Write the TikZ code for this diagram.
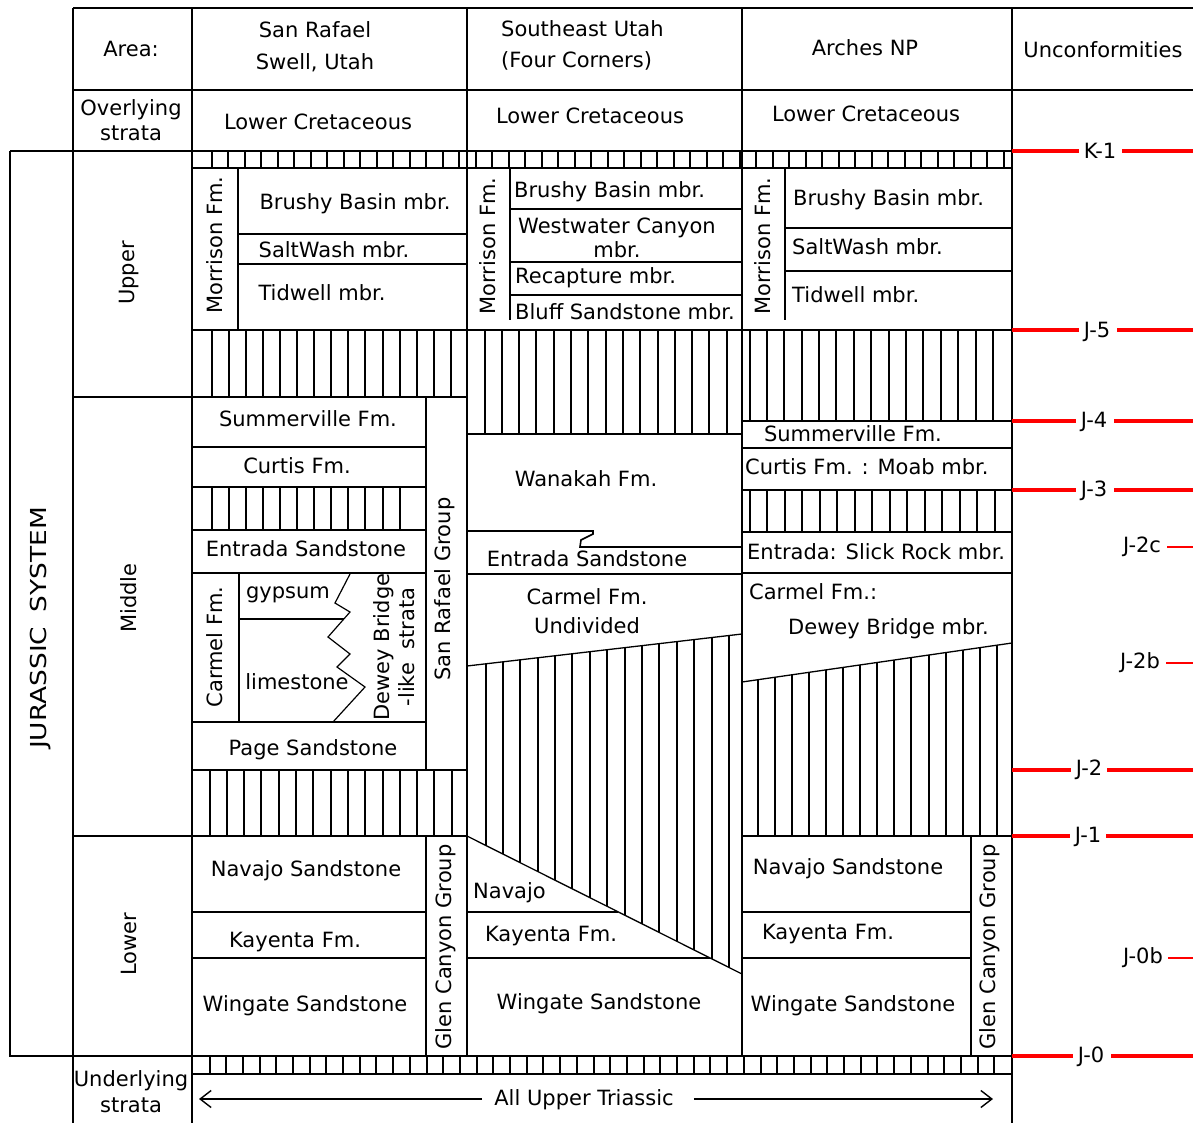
\documentclass[tikz,border=0pt]{standalone}
\usepackage{fontspec}
\setmainfont{DejaVu Sans}
\usetikzlibrary{arrows.meta}
\begin{document}
\begin{tikzpicture}[x=1pt,y=-1pt,
  ln/.style={line width=1.6pt},
  hat/.style={line width=1.5pt},
  rl/.style={draw=red, line width=3.2pt},
  rthin/.style={draw=red, line width=1.3pt},
  t/.style={inner sep=0pt, font=\fontsize{21}{25}\selectfont, align=center},
  tl/.style={t, anchor=west, align=left},
  tr/.style={t, rotate=90},
  tip/.style={-{Straight Barb[length=11pt,width=17pt,line width=1.4pt]}, line width=1.4pt}
]
\useasboundingbox (0,0) rectangle (1193,1123);

% ---------- hatch bands ----------
\foreach \i in {0,...,48} \draw[hat] ({int(212+16.5*\i)},151) -- ++(0,17);
\foreach \i in {0,...,47} \draw[hat] ({int(210+16.7*\i)},1056) -- ++(0,18);
\foreach \i in {0,...,14} \draw[hat] ({int(212+17.1*\i)},330) -- ++(0,67);
\foreach \i in {0,...,14} \draw[hat] ({int(485+17.3*\i)},330) -- ++(0,104);
\foreach \i in {0,...,14} \draw[hat] ({int(750+17.4*\i)},330) -- ++(0,91);
\foreach \i in {0,...,11} \draw[hat] ({int(212+17.1*\i)},487) -- ++(0,43);
\foreach \i in {0,...,14} \draw[hat] ({int(750+17.5*\i)},490) -- ++(0,42);
\foreach \i in {0,...,14} \draw[hat] ({int(210+17.3*\i)},770) -- ++(0,66);
\begin{scope}
  \clip (467,666) -- (742,634) -- (742,974) -- (467,836) -- cycle;
  \foreach \i in {0,...,14} \draw[hat] ({int(486+17.4*\i)},600) -- ++(0,400);
\end{scope}
\begin{scope}
  \clip (742,682) -- (1012,643) -- (1012,836) -- (742,836) -- cycle;
  \foreach \i in {0,...,14} \draw[hat] ({int(758+17.1*\i)},600) -- ++(0,300);
\end{scope}

% ---------- frame ----------
\draw[ln] (73,8) -- (1193,8);
\draw[ln] (73,90) -- (1193,90);
\draw[ln] (10,151) -- (1012,151);
\draw[ln] (73,8) -- (73,1123);
\draw[ln] (192,8) -- (192,1123);
\draw[ln] (467,8) -- (467,1056);
\draw[ln] (742,8) -- (742,1056);
\draw[ln] (1012,8) -- (1012,1123);
\draw[ln] (10,151) -- (10,1056) -- (1012,1056);
\draw[ln] (192,168) -- (1012,168);
\draw[ln] (192,1074) -- (1012,1074);
\draw[ln] (192,330) -- (1012,330);
\draw[ln] (73,397) -- (467,397);
\draw[ln] (73,836) -- (467,836);

% ---------- San Rafael ----------
\draw[ln] (238,168) -- (238,330);
\draw[ln] (238,234) -- (467,234);
\draw[ln] (238,264) -- (467,264);
\draw[ln] (426,397) -- (426,770);
\draw[ln] (192,447) -- (426,447);
\draw[ln] (192,487) -- (426,487);
\draw[ln] (192,530) -- (426,530);
\draw[ln] (192,573) -- (426,573);
\draw[ln] (239,573) -- (239,722);
\draw[ln] (239,619) -- (344,619);
\draw[line width=1.2pt] (350,574) -- (335,603) -- (350,612) -- (328,637) -- (350,654) -- (337,667) -- (365,687) -- (333,722);
\draw[ln] (192,722) -- (426,722);
\draw[ln] (192,770) -- (467,770);
\draw[ln] (426,836) -- (426,1056);
\draw[ln] (192,912) -- (426,912);
\draw[ln] (192,958) -- (426,958);

% ---------- Southeast Utah ----------
\draw[ln] (510,168) -- (510,320);
\draw[ln] (510,209) -- (742,209);
\draw[ln] (510,262) -- (742,262);
\draw[ln] (510,295) -- (742,295);
\draw[ln] (467,434) -- (742,434);
\draw[ln] (467,531) -- (593,531) -- (593,534) -- (581,540) -- (580,547) -- (742,547);
\draw[ln] (467,574) -- (742,574);
\draw[line width=1.3pt] (467,666) -- (742,634);
\draw[line width=1.3pt] (467,836) -- (742,974);
\draw[ln] (467,912) -- (618,912);
\draw[ln] (467,958) -- (710,958);

% ---------- Arches ----------
\draw[ln] (785,168) -- (785,320);
\draw[ln] (785,228) -- (1012,228);
\draw[ln] (785,271) -- (1012,271);
\draw[ln] (742,421) -- (1012,421);
\draw[ln] (742,448) -- (1012,448);
\draw[ln] (742,490) -- (1012,490);
\draw[ln] (742,532) -- (1012,532);
\draw[ln] (742,573) -- (1012,573);
\draw[line width=1.3pt] (742,682) -- (1012,643);
\draw[ln] (742,836) -- (1012,836);
\draw[ln] (971,836) -- (971,1056);
\draw[ln] (742,912) -- (971,912);
\draw[ln] (742,958) -- (971,958);

% ---------- header texts ----------
\node[t] (area) at (131,49) {Area:};
\node[t, font=\fontsize{21}{32}\selectfont] (hsr) at (315,47) {San Rafael\\Swell, Utah};
\node[tl, font=\fontsize{21}{31}\selectfont] (hse) at (501,45) {Southeast Utah\\(Four Corners)};
\node[t] (har) at (865,48) {Arches NP};
\node[t] (hun) at (1103,50) {Unconformities};
\node[t] (over) at (131,120) {Overlying\\strata};
\node[t] (lc1) at (318,122) {Lower Cretaceous};
\node[t] (lc2) at (590,116) {Lower Cretaceous};
\node[t] (lc3) at (866,114) {Lower Cretaceous};

\node[t, rotate=90, font=\fontsize{22}{25}\selectfont] (jur) at (41,628) {\scalebox{1.2}[1]{JURASSIC\hspace{12pt}SYSTEM}};
\node[tr] (upper) at (129,273) {Upper};
\node[tr] (middle) at (129,598) {Middle};
\node[tr] (lower) at (129,944) {Lower};

% ---------- SR texts ----------
\node[tr] (srmor) at (215,245) {Morrison Fm.};
\node[t] (srbb) at (355,204) {Brushy Basin mbr.};
\node[t] (srsw) at (334,250) {SaltWash mbr.};
\node[t] (srtid) at (322,293) {Tidwell mbr.};
\node[t] (srsum) at (308,419) {Summerville Fm.};
\node[t] (srcur) at (297,466) {Curtis Fm.};
\node[t] (srent) at (306,549) {Entrada Sandstone};
\node[tr] (srcar) at (215,647) {Carmel Fm.};
\node[t] (srgyp) at (288,595) {gypsum};
\node[t] (srlim) at (297,682) {limestone};
\node[tr] (srdew) at (394,647) {Dewey Bridge\\-like\ \ strata};
\node[t] (srpage) at (313,750) {Page Sandstone};
\node[tr] (srgrp) at (445,589) {San Rafael Group};
\node[t] (srnav) at (306,871) {Navajo Sandstone};
\node[t] (srkay) at (295,942) {Kayenta Fm.};
\node[t] (srwin) at (305,1006) {Wingate Sandstone};
\node[tr] (srglen) at (446,947) {Glen Canyon Group};

% ---------- SE texts ----------
\node[tr] (semor) at (488,246) {Morrison Fm.};
\node[tl] (sebb) at (514,192) {Brushy Basin mbr.};
\node[t, font=\fontsize{21}{24}\selectfont] (sewest) at (617,238) {Westwater Canyon\\mbr.};
\node[tl] (serec) at (515,278) {Recapture mbr.};
\node[tl] (seblu) at (515,312) {Bluff Sandstone mbr.};
\node[t] (sewan) at (586,479) {Wanakah Fm.};
\node[t] (seent) at (587,559) {Entrada Sandstone};
\node[t, font=\fontsize{21}{29}\selectfont] (secar) at (587,611) {Carmel Fm.\\Undivided};
\node[tl] (senav) at (473,893) {Navajo};
\node[t] (sekay) at (551,936) {Kayenta Fm.};
\node[t] (sewin) at (599,1004) {Wingate Sandstone};

% ---------- Arches texts ----------
\node[tr] (armor) at (763,246) {Morrison Fm.};
\node[tl] (arbb) at (793,200) {Brushy Basin mbr.};
\node[tl] (arsw) at (792,247) {SaltWash mbr.};
\node[tl] (artid) at (792,295) {Tidwell mbr.};
\node[t] (arsum) at (853,434) {Summerville Fm.};
\node[tl] (arcur) at (745,467) {Curtis Fm. : Moab mbr.};
\node[tl] (arent) at (747,552) {Entrada: Slick Rock mbr.};
\node[tl] (arcar) at (749,592) {Carmel Fm.:};
\node[tl] (ardew) at (788,629) {Dewey Bridge mbr.};
\node[t] (arnav) at (848,869) {Navajo Sandstone};
\node[t] (arkay) at (828,934) {Kayenta Fm.};
\node[t] (arwin) at (853,1006) {Wingate Sandstone};
\node[tr] (arglen) at (990,947) {Glen Canyon Group};

% ---------- underlying ----------
\node[t, font=\fontsize{21}{26}\selectfont] (under) at (131,1092) {Underlying\\strata};
\node[t] (trias) at (584,1100) {All Upper Triassic};
\coordinate (aL) at (199,1099);
\coordinate (aR) at (993,1099);
\draw[tip] ([xshift=-12pt]trias.west |- aL) -- (aL);
\draw[tip] ([xshift=20pt]trias.east |- aR) -- (aR);

% ---------- unconformities ----------
\node[t] (k1) at (1100,151) {K-1};
\node[t] (j5) at (1097,332) {J-5};
\node[t] (j4) at (1094,422) {J-4};
\node[t] (j3) at (1094,491) {J-3};
\node[t] (j2c) at (1142,547) {J-2c};
\node[t] (j2b) at (1140,663) {J-2b};
\node[t] (j2) at (1089,770) {J-2};
\node[t] (j1) at (1088,837) {J-1};
\node[t] (j0b) at (1143,958) {J-0b};
\node[t] (j0) at (1091,1057) {J-0};

\draw[rl] (1012,151) -- ([xshift=-5pt]k1.west |- 0,151);
\draw[rl] ([xshift=6pt]k1.east |- 0,151) -- (1193,151);
\draw[rl] (1012,330) -- ([xshift=-5pt]j5.west |- 0,330);
\draw[rl] ([xshift=7pt]j5.east |- 0,330) -- (1193,330);
\draw[rl] (1012,421) -- ([xshift=-5pt]j4.west |- 0,421);
\draw[rl] ([xshift=7pt]j4.east |- 0,421) -- (1193,421);
\draw[rl] (1012,490) -- ([xshift=-5pt]j3.west |- 0,490);
\draw[rl] ([xshift=7pt]j3.east |- 0,490) -- (1193,490);
\draw[rthin] ([xshift=6pt]j2c.east |- 0,547) -- (1193,547);
\draw[rthin] ([xshift=6pt]j2b.east |- 0,663) -- (1193,663);
\draw[rl] (1012,770) -- ([xshift=-5pt]j2.west |- 0,770);
\draw[rl] ([xshift=5pt]j2.east |- 0,770) -- (1193,770);
\draw[rl] (1012,836) -- ([xshift=-5pt]j1.west |- 0,836);
\draw[rl] ([xshift=5pt]j1.east |- 0,836) -- (1193,836);
\draw[rthin] ([xshift=5pt]j0b.east |- 0,958) -- (1193,958);
\draw[rl] (1012,1056) -- ([xshift=-5pt]j0.west |- 0,1056);
\draw[rl] ([xshift=7pt]j0.east |- 0,1056) -- (1193,1056);
\end{tikzpicture}
\end{document}
